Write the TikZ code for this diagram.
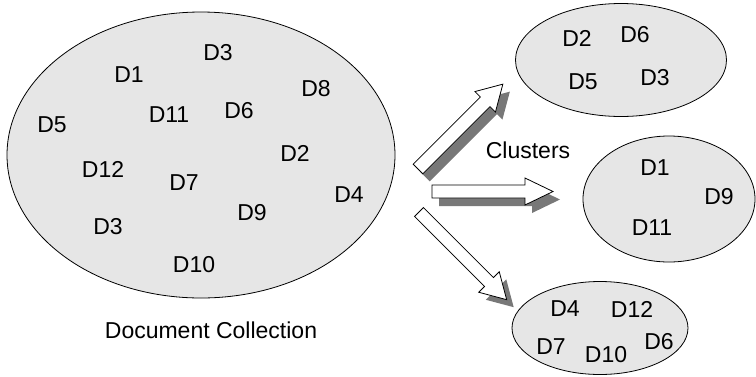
\documentclass[tikz,border=0pt]{standalone}
\usepackage{fontspec}
\setmainfont{Liberation Sans}
\usetikzlibrary{shapes.geometric}
\definecolor{blobfill}{HTML}{E6E6E6}
\definecolor{shadowgray}{HTML}{787878}
% block arrow outline: length, shaft half width, head half width, head length
\newcommand{\barrowpath}[4]{(0,-#2) -- (#1-#4,-#2) -- (#1-#4,-#3) -- (#1,0) -- (#1-#4,#3) -- (#1-#4,#2) -- (0,#2) -- cycle}
\tikzset{
  blob/.style={ellipse, draw=black, line width=0.8pt, fill=blobfill, inner sep=0pt},
  lbl/.style={font=\fontsize{23}{27}\selectfont, inner sep=0pt},
  arrowbody/.style={draw=black, line width=0.8pt, fill=white, line join=miter},
  arrowshadow/.style={fill=shadowgray}
}
\begin{document}
\begin{tikzpicture}[x=1pt,y=-1pt]
\useasboundingbox (0,0) rectangle (756,376);
% ellipses
\node[blob, minimum width=388pt, minimum height=286pt] (coll) at (201,155) {};
\node[blob, minimum width=211pt, minimum height=113pt] (c1) at (621,60) {};
\node[blob, minimum width=172pt, minimum height=126pt] (c2) at (669,199) {};
\node[blob, minimum width=176pt, minimum height=93pt] (c3) at (600,328) {};
% document collection labels
\node[lbl] (a3) at (218,53) {D3};
\node[lbl] (a1) at (129,75) {D1};
\node[lbl] (a8) at (316,89) {D8};
\node[lbl] (a11) at (169,115) {D11};
\node[lbl] (a6) at (239,111) {D6};
\node[lbl] (a5) at (52,125) {D5};
\node[lbl] (a2) at (295,153) {D2};
\node[lbl] (a12) at (103,169) {D12};
\node[lbl] (a7) at (184,183) {D7};
\node[lbl] (a4) at (349,195) {D4};
\node[lbl] (a9) at (252,213) {D9};
\node[lbl] (a3b) at (108,227) {D3};
\node[lbl] (a10) at (194,265) {D10};
\node[lbl] (cap) at (211,330) {Document Collection};
% cluster 1
\node[lbl] (b2) at (577,38) {D2};
\node[lbl] (b6) at (635,35) {D6};
\node[lbl] (b5) at (583,82) {D5};
\node[lbl] (b3) at (655,78) {D3};
% cluster 2
\node[lbl] (d1) at (655,168) {D1};
\node[lbl] (d9) at (719,197) {D9};
\node[lbl] (d11) at (652,228) {D11};
% cluster 3
\node[lbl] (e4) at (565,309) {D4};
\node[lbl] (e12) at (632,309) {D12};
\node[lbl] (e7) at (551,347) {D7};
\node[lbl] (e10) at (606,355) {D10};
\node[lbl] (e6) at (659,342) {D6};
% clusters label
\node[lbl] (clus) at (528,150) {Clusters};
% block arrows with drop shadows
\fill[arrowshadow, shift={(425,176.5)}, rotate=45] \barrowpath{120}{6.8}{14.5}{25};
\draw[arrowbody, shift={(418,169)}, rotate=45] \barrowpath{120}{6.8}{14.5}{25};
\fill[arrowshadow, shift={(439,199.5)}] \barrowpath{121}{6.5}{13.5}{28};
\draw[arrowbody, shift={(432,191.5)}] \barrowpath{121}{6.5}{13.5}{28};
\fill[arrowshadow, shift={(426,219.5)}, rotate=-45] \barrowpath{124}{6.3}{14.5}{25};
\draw[arrowbody, shift={(419,212)}, rotate=-45] \barrowpath{124}{6.3}{14.5}{25};
\end{tikzpicture}
\end{document}
